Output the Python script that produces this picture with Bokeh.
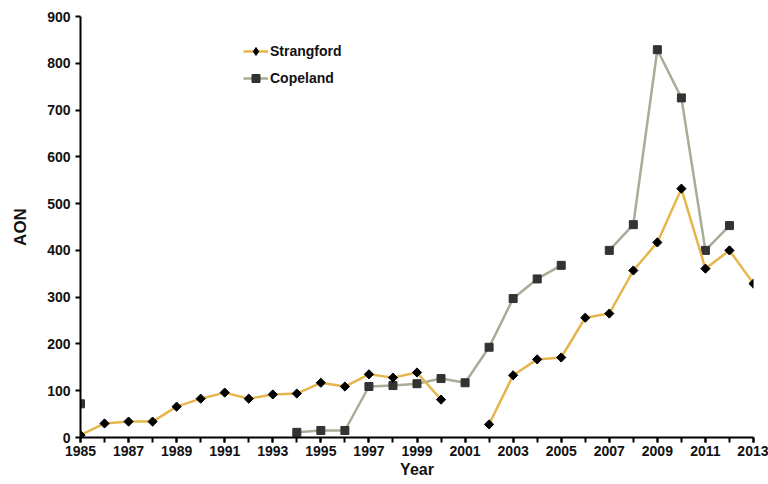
import math
from bokeh.plotting import figure
from bokeh.models import Range1d, FixedTicker, Legend, LegendItem, ColumnDataSource
from bokeh.embed import file_html
from bokeh.resources import INLINE

nan = float("nan")
years = list(range(1985, 2014))
strangford = [5, 30, 34, 34, 66, 83, 96, 83, 92, 94, 117, 109, 135, 128, 139, 81,
              nan, 28, 133, 167, 171, 256, 265, 357, 417, 532, 361, 400, 329]
copeland = [72, nan, nan, nan, nan, nan, nan, nan, nan, 11, 15, 15, 109, 111, 115, 126,
            117, 193, 297, 339, 368, nan, 400, 455, 829, 726, 400, 453, nan]
y_ticks = [0, 100, 200, 300, 400, 500, 600, 700, 800, 900]
x_label_years = list(range(1985, 2014, 2))

FONT = "Liberation Sans"
GOLD = "#E6B64E"
GREY = "#A7AD97"

p = figure(width=768, height=484, output_backend="svg", toolbar_location=None,
           x_range=Range1d(1985, 2013), y_range=Range1d(0, 900),
           min_border_left=80, min_border_right=15, min_border_top=16, min_border_bottom=47)
p.outline_line_color = None
p.xgrid.visible = False
p.ygrid.visible = False

src = ColumnDataSource(dict(x=years, s=strangford, c=copeland))

cl = p.line("x", "c", source=src, line_color=GREY, line_width=2.5)
cm = p.scatter("x", "c", source=src, marker="square", size=8, fill_color="#333333", line_color="#333333")
sl = p.line("x", "s", source=src, line_color=GOLD, line_width=2.5)
sm = p.scatter("x", "s", source=src, marker="square", angle=math.pi / 4, size=6.5,
               fill_color="black", line_color="black")
# legend-only diamond proxy (draws nothing in the plot)
sleg = p.scatter(x=[nan], y=[nan], marker="diamond", size=9, fill_color="black", line_color="black")

for ax in (p.xaxis[0], p.yaxis[0]):
    ax.axis_line_width = 2
    ax.axis_line_color = "black"
    ax.major_tick_line_width = 2
    ax.minor_tick_line_width = 2
    ax.major_tick_in = 0
    ax.major_tick_out = 5
    ax.minor_tick_in = 0
    ax.minor_tick_out = 5
    ax.major_label_text_font = FONT
    ax.major_label_text_font_style = "bold"
    ax.major_label_text_font_size = "14px"
    ax.major_label_text_color = "#111111"
    ax.axis_label_text_font = FONT
    ax.axis_label_text_font_style = "bold"
    ax.axis_label_text_color = "#111111"

p.xaxis.ticker = FixedTicker(ticks=x_label_years, minor_ticks=years)
p.yaxis.ticker = FixedTicker(ticks=y_ticks, minor_ticks=[])
p.xaxis.axis_label = "Year"
p.yaxis.axis_label = "AON"
p.xaxis.axis_label_text_font_size = "16px"
p.xaxis.axis_label_text_baseline = "middle"
p.yaxis.axis_label_text_font_size = "17px"
p.xaxis.axis_label_standoff = 2
p.yaxis.axis_label_standoff = 14
p.xaxis.major_label_standoff = 3
p.yaxis.major_label_standoff = 5

legend = Legend(items=[LegendItem(label="Strangford", renderers=[sl, sleg]),
                       LegendItem(label="Copeland", renderers=[cl, cm])],
                location=(163, 349), border_line_color=None, background_fill_alpha=0,
                padding=0, margin=0, spacing=7, glyph_width=25, glyph_height=20,
                label_standoff=2, label_text_font=FONT, label_text_font_style="bold",
                label_text_font_size="14px", label_text_color="#111111")
p.add_layout(legend)

open("out.html", "w").write(file_html(p, INLINE))
